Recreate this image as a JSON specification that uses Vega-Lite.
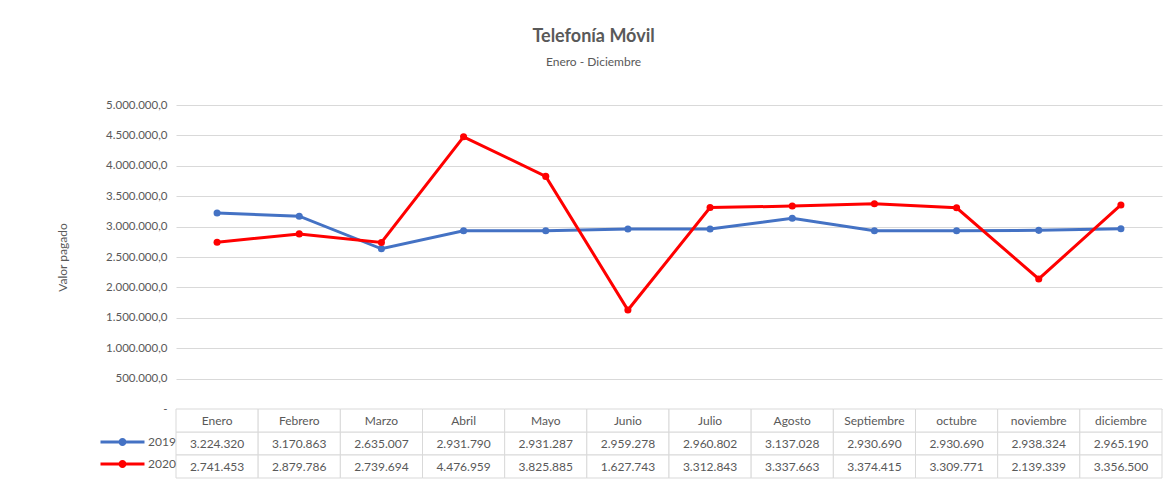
{
  "$schema": "https://vega.github.io/schema/vega-lite/v6.json",
  "background": "white",
  "padding": {"left": 56, "top": 28, "right": 5, "bottom": 10},
  "bounds": "flush",
  "title": {
    "text": "Telefonía Móvil",
    "subtitle": "Enero - Diciembre",
    "anchor": "middle",
    "dx": -16,
    "font": "Lato",
    "fontSize": 18,
    "fontWeight": "bold",
    "color": "#595959",
    "subtitleFont": "Lato",
    "subtitleFontSize": 12,
    "subtitleColor": "#595959",
    "subtitlePadding": 11,
    "offset": 31
  },
  "config": {
    "locale": {"number": {"decimal": ",", "thousands": ".", "grouping": [3], "currency": ["$", ""]}},
    "view": {"stroke": null},
    "font": "Lato",
    "concat": {"spacing": 0}
  },
  "datasets": {
    "d": [
      {"mes": "Enero", "serie": "2019", "valor": 3224320},
      {"mes": "Febrero", "serie": "2019", "valor": 3170863},
      {"mes": "Marzo", "serie": "2019", "valor": 2635007},
      {"mes": "Abril", "serie": "2019", "valor": 2931790},
      {"mes": "Mayo", "serie": "2019", "valor": 2931287},
      {"mes": "Junio", "serie": "2019", "valor": 2959278},
      {"mes": "Julio", "serie": "2019", "valor": 2960802},
      {"mes": "Agosto", "serie": "2019", "valor": 3137028},
      {"mes": "Septiembre", "serie": "2019", "valor": 2930690},
      {"mes": "octubre", "serie": "2019", "valor": 2930690},
      {"mes": "noviembre", "serie": "2019", "valor": 2938324},
      {"mes": "diciembre", "serie": "2019", "valor": 2965190},
      {"mes": "Enero", "serie": "2020", "valor": 2741453},
      {"mes": "Febrero", "serie": "2020", "valor": 2879786},
      {"mes": "Marzo", "serie": "2020", "valor": 2739694},
      {"mes": "Abril", "serie": "2020", "valor": 4476959},
      {"mes": "Mayo", "serie": "2020", "valor": 3825885},
      {"mes": "Junio", "serie": "2020", "valor": 1627743},
      {"mes": "Julio", "serie": "2020", "valor": 3312843},
      {"mes": "Agosto", "serie": "2020", "valor": 3337663},
      {"mes": "Septiembre", "serie": "2020", "valor": 3374415},
      {"mes": "octubre", "serie": "2020", "valor": 3309771},
      {"mes": "noviembre", "serie": "2020", "valor": 2139339},
      {"mes": "diciembre", "serie": "2020", "valor": 3356500}
    ]
  },
  "resolve": {"scale": {"color": "independent"}, "legend": {"color": "independent"}},
  "vconcat": [
    {
      "width": 986,
      "height": 304,
      "data": {"name": "d"},
      "mark": {"type": "line", "strokeWidth": 3, "point": {"filled": true, "size": 50}},
      "encoding": {
        "x": {
          "field": "mes", "type": "ordinal",
          "scale": {"type": "point", "padding": 0.5, "domain": ["Enero", "Febrero", "Marzo", "Abril", "Mayo", "Junio", "Julio", "Agosto", "Septiembre", "octubre", "noviembre", "diciembre"]},
          "axis": null
        },
        "y": {
          "field": "valor", "type": "quantitative",
          "scale": {"domain": [0, 5000000], "nice": false},
          "axis": {
            "title": "Valor pagado",
            "values": [0, 500000, 1000000, 1500000, 2000000, 2500000, 3000000, 3500000, 4000000, 4500000, 5000000],
            "labelExpr": "datum.value == 0 ? '-\u00a0\u00a0\u00a0\u00a0\u00a0\u00a0\u00a0' : format(datum.value, ',.1f')",
            "grid": true,
            "gridColor": "#D9D9D9",
            "domain": false,
            "ticks": false,
            "labelPadding": 9,
            "labelColor": "#595959",
            "labelFontSize": 11.5,
            "titleColor": "#595959",
            "titleFontSize": 12,
            "titleFontWeight": "normal",
            "titlePadding": 36
          }
        },
        "color": {
          "field": "serie", "type": "nominal",
          "scale": {"domain": ["2019", "2020"], "range": ["#4472C4", "#FF0000"]},
          "legend": null
        }
      }
    },
    {
      "width": 986,
      "height": 69,
      "data": {"name": "d"},
      "encoding": {
        "x": {
          "field": "mes", "type": "ordinal",
          "scale": {"type": "band", "paddingInner": 0, "paddingOuter": 0, "domain": ["Enero", "Febrero", "Marzo", "Abril", "Mayo", "Junio", "Julio", "Agosto", "Septiembre", "octubre", "noviembre", "diciembre"]},
          "axis": null
        }
      },
      "layer": [
        {
          "mark": {"type": "rect", "fill": "white", "stroke": "#D9D9D9", "strokeWidth": 1},
          "encoding": {
            "y": {"field": "serie", "type": "ordinal", "scale": {"type": "band", "paddingInner": 0, "paddingOuter": 0, "domain": ["mes", "2019", "2020"]}, "axis": null}
          }
        },
        {
          "transform": [{"filter": "datum.serie == '2019'"}],
          "mark": {"type": "rect", "fill": "white", "stroke": "#D9D9D9", "strokeWidth": 1},
          "encoding": {"y": {"datum": "mes", "type": "ordinal"}}
        },
        {
          "transform": [{"filter": "datum.serie == '2019'"}],
          "mark": {"type": "text", "fontSize": 12, "color": "#595959", "font": "Lato"},
          "encoding": {"y": {"datum": "mes", "type": "ordinal"}, "text": {"field": "mes"}}
        },
        {
          "mark": {"type": "text", "fontSize": 12, "color": "#595959", "font": "Lato"},
          "encoding": {
            "y": {"field": "serie", "type": "ordinal"},
            "text": {"field": "valor", "type": "quantitative", "format": ",.0f"}
          }
        },
        {
          "mark": {"type": "circle", "opacity": 0},
          "encoding": {
            "y": {"field": "serie", "type": "ordinal"},
            "color": {
              "field": "serie", "type": "nominal",
              "scale": {"domain": ["2019", "2020"], "range": ["#4472C4", "#FF0000"]},
              "legend": {
                "title": null,
                "orient": "none",
                "legendX": -43,
                "legendY": 27,
                "symbolType": "M-7,-0.27L1,-0.27L1,0.27L-7,0.27Z M-2.27,0 A0.73,0.73 0 1 1 -3.73,0 A0.73,0.73 0 1 1 -2.27,0 Z",
                "symbolSize": 121,
                "symbolOpacity": 1,
                "symbolStrokeWidth": 0,
                "labelFontSize": 12,
                "labelColor": "#595959",
                "labelFont": "Lato",
                "labelOffset": 3,
                "rowPadding": 10,
                "padding": 0
              }
            }
          }
        }
      ]
    }
  ]
}
